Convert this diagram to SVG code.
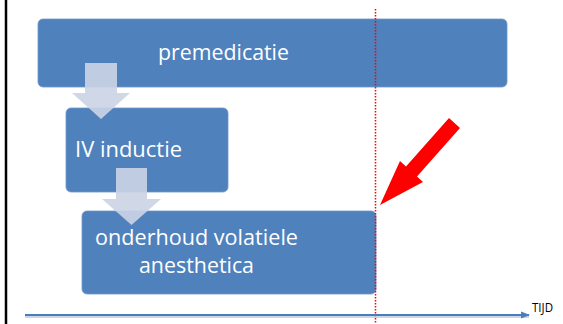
<svg xmlns="http://www.w3.org/2000/svg" width="563" height="324" viewBox="0 0 563 324">
<style>
.box{fill:#4f81bd;stroke:#7097c9;stroke-width:0.8}
.lbl{font-family:"Open Sans","Liberation Sans",sans-serif;font-size:22px;fill:#ffffff}
.flow{fill:rgb(203,212,230);fill-opacity:0.9}
</style>
<defs>
<marker id="ah" viewBox="0 0 10 10" refX="9" refY="5" markerWidth="4" markerHeight="4" orient="auto" markerUnits="strokeWidth">
<path d="M0,1 L10,5 L0,9 z" fill="#4a7ebb"/>
</marker>
</defs>
<rect x="0" y="0" width="563" height="324" fill="#ffffff"/>
<line x1="6" y1="0" x2="6" y2="324" stroke="#000000" stroke-width="2.5"/>
<g id="premedicatie">
<rect class="box" x="38" y="19" width="469" height="68" rx="5"/>
<text class="lbl" x="158" y="60" textLength="131" lengthAdjust="spacingAndGlyphs">premedicatie</text>
</g>
<g id="iv-inductie">
<rect class="box" x="66" y="108" width="162" height="84" rx="5"/>
<text class="lbl" x="75" y="157" textLength="107" lengthAdjust="spacingAndGlyphs">IV inductie</text>
</g>
<g id="onderhoud">
<rect class="box" x="82" y="211" width="294" height="83" rx="5"/>
<text class="lbl" x="95" y="245" textLength="203" lengthAdjust="spacingAndGlyphs">onderhoud volatiele</text>
<text class="lbl" x="139" y="273" textLength="115" lengthAdjust="spacingAndGlyphs">anesthetica</text>
</g>
<g id="connectors">
<path class="flow" d="M85,63 H117 V93 H130 L101,119 L72,93 H85 Z"/>
<path class="flow" d="M116,168 H147 V199 H161 L131.5,225 L102,199 H116 Z"/>
<line x1="375.5" y1="9" x2="375.5" y2="324" stroke="#ff0000" stroke-width="1.5" stroke-dasharray="1.5 1.5"/>
<polygon points="449,118 406,166.5 400,161 380,205 423,182 417,176.5 460,128" fill="#ff0000"/>
<line x1="25" y1="317" x2="529" y2="317" stroke="#a9bedc" stroke-width="2" opacity="0.6"/>
<line x1="25" y1="315" x2="529" y2="315" stroke="#4a7ebb" stroke-width="2.2" marker-end="url(#ah)"/>
</g>
<g id="tijd">
<text x="532" y="312" font-family="'Open Sans','Liberation Sans',sans-serif" font-size="12.5" fill="#000000" textLength="21" lengthAdjust="spacingAndGlyphs">TIJD</text>
</g>
</svg>
